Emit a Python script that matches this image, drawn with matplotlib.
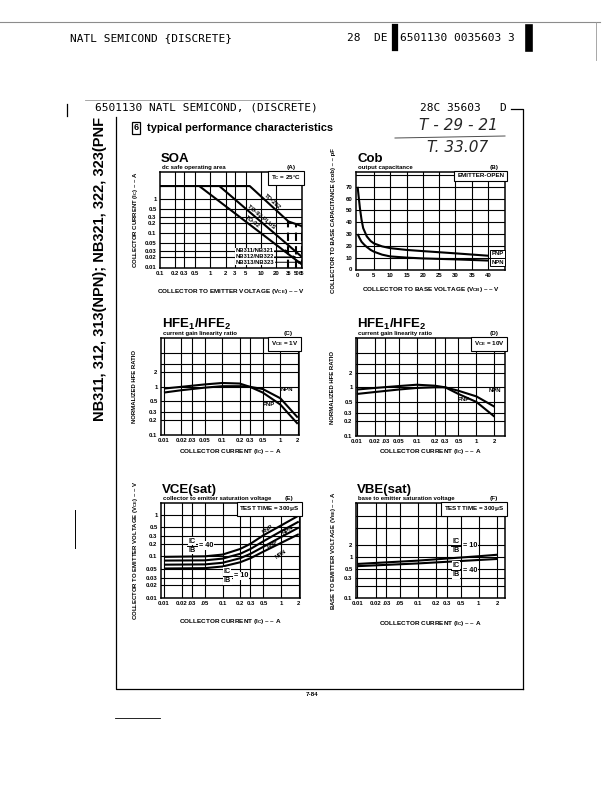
import matplotlib.pyplot as plt
from matplotlib.ticker import NullLocator

plt.rcParams['font.family'] = ['Liberation Sans', 'DejaVu Sans']
plt.rcParams['mathtext.fontset'] = 'custom'
plt.rcParams['mathtext.rm'] = 'Liberation Sans:bold'
plt.rcParams['mathtext.bf'] = 'Liberation Sans:bold'
plt.rcParams['mathtext.it'] = 'Liberation Sans:bold'
plt.rcParams['mathtext.default'] = 'bf'

# ---- data ----
# (A) SOA
soa_v_ticks = [0.1, 0.2, 0.3, 0.5, 1, 2, 3, 5, 10, 20, 35, 50, 65]
soa_v_labels = ['0.1', '0.2', '0.3', '0.5', '1', '2', '3', '5', '10', '20', '35', '50', '65']
soa_i_ticks = [0.01, 0.02, 0.03, 0.05, 0.1, 0.2, 0.3, 0.5, 1]
soa_i_labels = ['0.01', '0.02', '0.03', '0.05', '0.1', '0.2', '0.3', '0.5', '1']
to202_v = [0.1, 6, 35, 65]
to202_i = [2.4, 2.4, 0.22, 0.16]
to92plus_v = [1.5, 65]
to92plus_i = [2.4, 0.02]
to92_v = [0.6, 65]
to92_i = [2.4, 0.012]
bv_v = [35, 50, 65]
bv_top = [0.22, 0.19, 0.16]
bv_parts = ['NB311/NB321', 'NB312/NB322', 'NB313/NB323']
bv_label_i = [0.03, 0.02, 0.014]
# package labels: text, anchor V, anchor I (on the line), angle
pkg_labels = [('TO-202', 16, 0.64, -42), ('TO-92 PLUS', 9.6, 0.23, -40), ('TO-92', 6.3, 0.17, -37)]

# (B) Cob
cob_v_ticks = [0, 5, 10, 15, 20, 25, 30, 35, 40]
cob_c_ticks = [0, 10, 20, 30, 40, 50, 60, 70]
cob_pnp_v = [0, 0.3, 0.7, 1.2, 1.7, 2.8, 4, 5, 7.5, 10, 15, 20, 30, 40]
cob_pnp_c = [70, 62, 52, 42, 35, 28, 24, 22, 19.5, 18, 16.5, 15.5, 13.6, 11.6]
cob_npn_v = [0, 0.5, 1.2, 2, 2.8, 4, 5, 7.5, 10, 15, 20, 30, 40]
cob_npn_c = [30, 27, 23.4, 21, 19, 16.5, 15, 12.5, 11, 10, 9.3, 8.5, 7.5]

# (C)/(D) HFE1/HFE2
ic_ticks = [0.01, 0.02, 0.03, 0.05, 0.1, 0.2, 0.3, 0.5, 1, 2]
ic_labels = ['0.01', '0.02', '.03', '0.05', '0.1', '0.2', '0.3', '0.5', '1', '2']
hfe_ticks = [0.1, 0.2, 0.3, 0.5, 1, 2]
hfe_labels = ['0.1', '0.2', '0.3', '0.5', '1', '2']
hfe_ic = [0.01, 0.02, 0.05, 0.1, 0.2, 0.3, 0.5, 1, 2]
hfe_c_pnp = [0.92, 1.0, 1.12, 1.2, 1.17, 1.0, 0.76, 0.43, 0.17]
hfe_c_npn = [0.76, 0.85, 0.96, 1.03, 1.03, 1.0, 0.9, 0.58, 0.23]
hfe_d_pnp = [0.9, 0.97, 1.06, 1.13, 1.08, 1.0, 0.73, 0.5, 0.25]
hfe_d_npn = [0.73, 0.8, 0.9, 0.97, 1.0, 1.0, 0.85, 0.65, 0.4]

# (E) VCE(sat)
ic_labels_e = ['0.01', '0.02', '.03', '.05', '0.1', '0.2', '0.3', '0.5', '1', '2']
vce_ticks = [0.01, 0.02, 0.03, 0.05, 0.1, 0.2, 0.3, 0.5, 1]
vce_labels = ['0.01', '0.02', '0.03', '0.05', '0.1', '0.2', '0.3', '0.5', '1']
vce_ic = [0.01, 0.05, 0.1, 0.2, 0.3, 0.5, 1, 2]
vce_pnp_40 = [0.097, 0.10, 0.11, 0.15, 0.2, 0.32, 0.55, 0.95]
vce_npn_40 = [0.079, 0.08, 0.088, 0.115, 0.15, 0.23, 0.4, 0.68]
vce_pnp_10 = [0.063, 0.064, 0.07, 0.09, 0.115, 0.17, 0.29, 0.49]
vce_npn_10 = [0.051, 0.052, 0.057, 0.072, 0.09, 0.13, 0.21, 0.34]
vce_tags = [('PNP', 0.6, 0.45), ('NPN', 1.3, 0.42), ('PNP', 0.72, 0.2), ('NPN', 1.0, 0.11)]

# (F) VBE(sat)
vbe_ticks = [0.1, 0.3, 0.5, 1, 2]
vbe_labels = ['0.1', '0.3', '0.5', '1', '2']
vbe_ic = [0.01, 0.1, 1, 2]
vbe_10 = [0.68, 0.82, 1.05, 1.14]
vbe_40 = [0.6, 0.7, 0.85, 0.9]

W, H = 612, 792
fig = plt.figure(figsize=(W / 100, H / 100), dpi=100)

NARROW = ['Liberation Sans Narrow', 'Liberation Sans', 'DejaVu Sans']


def ftext(x, y, s, **kw):
    # place text using page pixel coordinates (origin top-left)
    return fig.text(x / W, 1 - y / H, s, **kw)


def fline(xs, ys, **kw):
    fig.add_artist(plt.Line2D([x / W for x in xs], [1 - y / H for y in ys], **kw))


def panel(l, t, r, b, xlim, ylim, xlog, ylog, xticks, xlabels, yticks, ylabels,
          xgrid, ygrid):
    ax = fig.add_axes([l / W, 1 - b / H, (r - l) / W, (b - t) / H])
    if xlog:
        ax.set_xscale('log')
    if ylog:
        ax.set_yscale('log')
    ax.set_xlim(xlim)
    ax.set_ylim(ylim)
    ax.set_xticks(xticks, xlabels)
    ax.set_yticks(yticks, ylabels)
    ax.xaxis.set_minor_locator(NullLocator())
    ax.yaxis.set_minor_locator(NullLocator())
    ax.tick_params(length=0, labelsize=4.3, pad=2.5)
    for lab in ax.get_xticklabels() + ax.get_yticklabels():
        lab.set_fontweight('bold')
        lab.set_family(NARROW)
    for g in xgrid:
        ax.axvline(g, color='k', lw=0.8, zorder=1)
    for g in ygrid:
        ax.axhline(g, color='k', lw=0.8, zorder=1)
    for s in ax.spines.values():
        s.set_linewidth(1.1)
    return ax


def heads(l, r, t, b, title, sub, letter, ylab, xlab, ylab_x, xlab_y):
    ftext(l + 1, t - 10, title, fontsize=9.5, fontweight='bold', va='baseline')
    ftext(l + 2, t - 3, sub, fontsize=4.3, fontweight='bold', va='baseline')
    ftext(r - 11, t - 3, letter, fontsize=4.6, fontweight='bold', va='baseline', ha='center')
    ftext(ylab_x, (t + b) / 2, ylab, fontsize=4.3, fontweight='bold', rotation=90,
          ha='center', va='center', family=NARROW)
    ftext((l + r) / 2, xlab_y, xlab, fontsize=4.6, fontweight='bold',
          ha='center', va='center', family=NARROW)


def cond_box(ax, s):
    ax.text(0.995, 0.985, s, transform=ax.transAxes, ha='right', va='top',
            fontsize=4.5, fontweight='bold', family=NARROW, zorder=5,
            bbox=dict(boxstyle='square,pad=0.45', fc='white', ec='black', lw=0.8))


WHITE = dict(boxstyle='square,pad=0.1', fc='white', ec='none')


def ratio(ax, x, y, val):
    # stacked IC over IB with a bar, then "= val"
    kw = dict(fontsize=5.2, fontweight='bold', family=NARROW, ha='center', zorder=5, bbox=WHITE)
    ax.text(x, y * 1.06, 'IC', va='bottom', **kw)
    ax.text(x, y / 1.06, 'IB', va='top', **kw)
    ax.plot([x / 1.2, x * 1.2], [y, y], color='k', lw=0.7, zorder=6)
    ax.text(x * 1.3, y, '= ' + val, fontsize=5.2, fontweight='bold', family=NARROW,
            ha='left', va='center', zorder=5, bbox=WHITE)


CURVE = dict(color='k', lw=1.5, zorder=3, solid_capstyle='butt')
TAG = dict(fontsize=4.3, fontweight='bold', family=NARROW, zorder=4)

# ---------------- (A) SOA ----------------
ax = panel(160, 172, 302, 268, (0.1, 65), (0.0095, 6.2), True, True,
           soa_v_ticks, soa_v_labels, soa_i_ticks, soa_i_labels,
           soa_v_ticks[1:10], soa_i_ticks[1:])
for lab in ax.get_xticklabels()[-3:]:
    lab.set_fontsize(3.6)
ax.plot(to202_v, to202_i, **CURVE)
ax.plot(to92plus_v, to92plus_i, **CURVE)
ax.plot(to92_v, to92_i, **CURVE)
for v, top in zip(bv_v, bv_top):
    ax.plot([v, v], [0.0095, top], color='k', lw=1.5, ls=(0, (4, 2.5)), zorder=3)
for s, v, i, ang in pkg_labels:
    ax.text(v, i * 1.12, s, rotation=ang, rotation_mode='anchor', ha='center',
            va='bottom', **TAG)
for name, v, yi in zip(bv_parts, bv_v, bv_label_i):
    ax.annotate(name, xy=(v, yi), xytext=(7.5, yi), fontsize=4.2, fontweight='bold',
                family=NARROW, ha='center', va='center', zorder=5,
                bbox=dict(boxstyle='square,pad=0.1', fc='white', ec='none'),
                arrowprops=dict(arrowstyle='-|>', lw=0.7, color='k',
                                mutation_scale=4, shrinkA=0, shrinkB=0))
cond_box(ax, r'T$_C$ = 25$\degree$C')
heads(160, 302, 172, 268, 'SOA', 'dc safe operating area', '(A)',
      r'COLLECTOR CURRENT (I$_C$) – – A',
      r'COLLECTOR TO EMITTER VOLTAGE (V$_{CE}$) – – V', 135, 291)

# ---------------- (B) Cob ----------------
ax = panel(356, 172, 505, 270, (-0.5, 45.2), (-0.5, 82.5), False, False,
           cob_v_ticks, [str(v) for v in cob_v_ticks],
           cob_c_ticks, [str(c) for c in cob_c_ticks],
           cob_v_ticks[1:], cob_c_ticks[1:] + [80])
ax.plot(cob_pnp_v, cob_pnp_c, **CURVE)
ax.plot(cob_npn_v, cob_npn_c, **CURVE)
for s, y in (('PNP', cob_pnp_c[-1] + 1.5), ('NPN', cob_npn_c[-1] - 1.5)):
    ax.text(44.8, y, s, fontsize=4.3, fontweight='bold', family=NARROW,
            ha='right', va='center', zorder=5,
            bbox=dict(boxstyle='square,pad=0.25', fc='white', ec='black', lw=0.7))
cond_box(ax, 'EMITTER-OPEN')
heads(356, 505, 172, 270, 'Cob', 'output capacitance', '(B)',
      'COLLECTOR TO BASE CAPACITANCE (cob) – – pF',
      r'COLLECTOR TO BASE VOLTAGE (V$_{CB}$) – – V', 333, 290)

# ---------------- (C) HFE1/HFE2, VCE = 1V ----------------
hfe_grid = [0.2, 0.3, 0.5, 1, 2, 3, 5]
ax = panel(161, 338, 299, 435, (0.0089, 2.1), (0.1, 10.3), True, True,
           ic_ticks, ic_labels, hfe_ticks, hfe_labels, ic_ticks, hfe_grid)
ax.plot(hfe_ic, hfe_c_pnp, **CURVE)
ax.plot(hfe_ic, hfe_c_npn, **CURVE)
ax.text(1.3, 0.9, 'NPN', ha='center', va='center', **TAG)
ax.text(0.63, 0.42, 'PNP', ha='center', va='center', **TAG)
cond_box(ax, r'V$_{CE}$ = 1V')
heads(161, 299, 338, 435, r'HFE$_1$/HFE$_2$', 'current gain linearity ratio', '(C)',
      'NORMALIZED HFE RATIO', r'COLLECTOR CURRENT (I$_C$) – – A', 135, 451)

# ---------------- (D) HFE1/HFE2, VCE = 10V ----------------
ax = panel(356, 338, 505, 436, (0.0097, 3.0), (0.1, 10.3), True, True,
           ic_ticks, ic_labels, hfe_ticks, hfe_labels, ic_ticks, hfe_grid)
ax.plot(hfe_ic, hfe_d_pnp, **CURVE)
ax.plot(hfe_ic, hfe_d_npn, **CURVE)
ax.text(2.0, 0.85, 'NPN', ha='center', va='center', **TAG)
ax.text(0.62, 0.55, 'PNP', ha='center', va='center', **TAG)
cond_box(ax, r'V$_{CE}$ = 10V')
heads(356, 505, 338, 436, r'HFE$_1$/HFE$_2$', 'current gain linearity ratio', '(D)',
      'NORMALIZED HFE RATIO', r'COLLECTOR CURRENT (I$_C$) – – A', 333, 451)

# ---------------- (E) VCE(sat) ----------------
ax = panel(161, 503, 300, 598, (0.0089, 2.1), (0.01, 1.9), True, True,
           ic_ticks, ic_labels_e, vce_ticks, vce_labels, ic_ticks, vce_ticks)
for ser in (vce_pnp_40, vce_npn_40, vce_pnp_10, vce_npn_10):
    ax.plot(vce_ic, ser, **CURVE)
for s, x, y in vce_tags:
    ax.text(x, y, s, rotation=35, ha='center', va='center', **TAG)
ratio(ax, 0.03, 0.18, '40')
ratio(ax, 0.12, 0.034, '10')
cond_box(ax, r'TEST TIME = 300$\mu$S')
heads(161, 300, 503, 598, 'VCE(sat)', 'collector to emitter saturation voltage', '(E)',
      r'COLLECTOR TO EMITTER VOLTAGE (V$_{CE}$) – – V',
      r'COLLECTOR CURRENT (I$_C$) – – A', 135, 622)

# ---------------- (F) VBE(sat) ----------------
ax = panel(356, 503, 505, 598, (0.0095, 2.7), (0.1, 21), True, True,
           ic_ticks, ic_labels_e, vbe_ticks, vbe_labels, ic_ticks,
           [0.2, 0.3, 0.5, 1, 2, 5, 10])
ax.plot(vbe_ic, vbe_10, **CURVE)
ax.plot(vbe_ic, vbe_40, **CURVE)
ratio(ax, 0.42, 1.9, '10')
ratio(ax, 0.42, 0.48, '40')
cond_box(ax, r'TEST TIME = 300$\mu$S')
heads(356, 505, 503, 598, 'VBE(sat)', 'base to emitter saturation voltage', '(F)',
      r'BASE TO EMITTER VOLTAGE (V$_{BE}$) – – A',
      r'COLLECTOR CURRENT (I$_C$) – – A', 333, 623)

# ---------------- page furniture ----------------
MONO = ['DejaVu Sans Mono']
fline([0, 600], [22, 22], color='0.55', lw=0.8)
ftext(70, 38, 'NATL SEMICOND {DISCRETE}', fontsize=8, family=MONO, va='center')
ftext(347, 38, '28  DE', fontsize=8, family=MONO, va='center')
fline([394.5, 394.5], [27, 48], color='k', lw=4.5)
ftext(400, 38, '6501130 0035603 3', fontsize=8, family=MONO, va='center')
fline([529, 529], [28, 48], color='k', lw=5.5)
fline([596, 596], [22, 60], color='0.6', lw=0.6)

fline([85, 300], [100, 100], color='0.6', lw=0.6)
ftext(95, 108, '6501130 NATL SEMICOND, (DISCRETE)', fontsize=8, family=MONO, va='center')
ftext(420, 108, '28C 35603', fontsize=8, family=MONO, va='center')
ftext(503, 108, 'D', fontsize=8, family=MONO, va='center', ha='center')
fline([511, 523, 523], [109, 109, 689], color='k', lw=0.9)
fline([116, 116, 523], [117, 689, 689], color='k', lw=0.9)
fline([67, 67], [104, 116], color='k', lw=0.9)
fline([75, 75], [510, 548], color='k', lw=0.7)
fline([115, 160], [718, 718], color='k', lw=0.6)

ftext(100, 117, 'NB311, 312, 313(NPN); NB321, 322, 323(PNF', fontsize=10.5,
      fontweight='bold', rotation=90, ha='center', va='top')
ftext(136, 128, '6', fontsize=6.5, fontweight='bold', ha='center', va='center',
      bbox=dict(boxstyle='square,pad=0.15', fc='white', ec='black', lw=0.9))
ftext(147, 128, 'typical performance characteristics', fontsize=7.9, fontweight='bold',
      va='center')

ftext(458, 126, 'T - 29 - 21', fontsize=11, fontstyle='italic', family=['DejaVu Sans'],
      ha='center', va='center', color='0.15')
fline([395, 505], [138, 136], color='0.3', lw=0.7)
ftext(458, 147, 'T. 33.07', fontsize=11, fontstyle='italic', family=['DejaVu Sans'],
      ha='center', va='center', color='0.15')

ftext(312, 694, '7-84', fontsize=4.5, fontweight='bold', ha='center', va='center')

fig.savefig('out.png', dpi=100, facecolor='white')
